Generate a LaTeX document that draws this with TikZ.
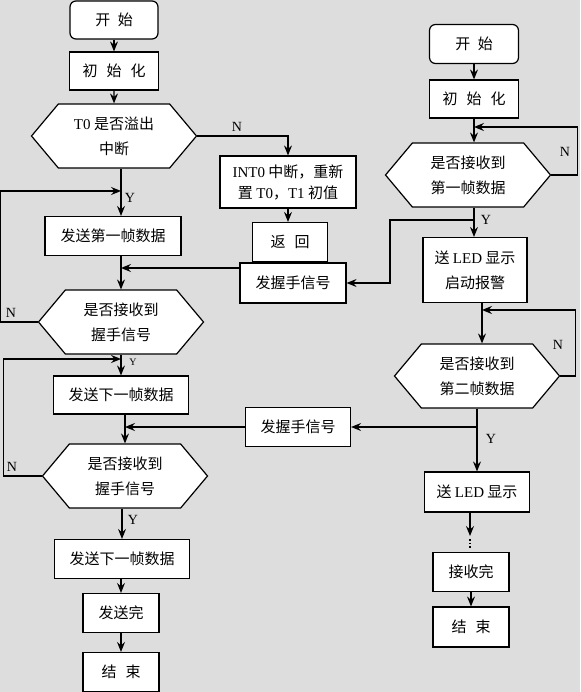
\documentclass[tikz,border=0pt]{standalone}
\usepackage{fontspec}
\setmainfont{Liberation Serif}
\newfontfamily\cjk{Noto Sans CJK SC}
\newfontfamily\tms{Liberation Serif}
\usetikzlibrary{shapes.symbols,arrows.meta}
\definecolor{bgray}{RGB}{221,221,221}
\tikzset{
	box/.style={draw, fill=white, line width=1.2pt, inner sep=2pt, align=center, font=\cjk\fontsize{15}{25}\selectfont},
	startbox/.style={box, rounded corners=6pt},
	hexbox/.style={box, shape=signal, signal to=west and east, signal pointer angle=100, minimum width=165pt, minimum height=64pt},
	arr/.style={line width=1.2pt, -{Stealth[length=10pt,width=8pt,inset=3.5pt]}},
	lab/.style={font=\tms\fontsize{14}{14}\selectfont, inner sep=0pt}
}
\begin{document}
\begin{tikzpicture}[x=1pt, y=-1pt]
		\useasboundingbox[fill=bgray] (0,0) rectangle (580,692);
		% left column
		\node[startbox, minimum width=88pt, minimum height=38pt] (start1) at (114,20) {开\hspace{0.5em}始};
		\node[box, minimum width=89pt, minimum height=38pt] (init1) at (114,71) {初\hspace{0.6em}始\hspace{0.6em}化};
		\node[hexbox] (hex1) at (114,136) {{\tms T0} 是否溢出\\中断};
		\node[box, minimum width=136pt, minimum height=39pt] (send1) at (113,236) {发送第一帧数据};
		\node[hexbox] (hex2) at (121,322) {是否接收到\\握手信号};
		\node[box, minimum width=135pt, minimum height=38pt] (next1) at (121,395) {发送下一帧数据};
		\node[hexbox] (hex3) at (125,476) {是否接收到\\握手信号};
		\node[box, minimum width=135pt, minimum height=39pt] (next2) at (122,559) {发送下一帧数据};
		\node[box, minimum width=76pt, minimum height=39pt] (done1) at (121,613) {发送完};
		\node[box, minimum width=76pt, minimum height=39pt] (end1) at (121,672) {结\hspace{0.6em}束};
		% middle
		\node[box, minimum width=136pt, minimum height=52pt, font=\cjk\fontsize{15}{21}\selectfont] (int) at (288,182) {{\tms INT0} 中断，重新\\置 {\tms T0}，{\tms T1} 初值};
		\node[box, minimum width=75pt, minimum height=39pt] (ret) at (290,242) {返\hspace{0.6em}回};
		\node[box, minimum width=106pt, minimum height=40pt] (hand1) at (293,283) {发握手信号};
		\node[box, minimum width=105pt, minimum height=39pt] (hand2) at (298,427) {发握手信号};
		% right column
		\node[startbox, minimum width=89pt, minimum height=39pt] (start2) at (474,44) {开\hspace{0.5em}始};
		\node[box, minimum width=89pt, minimum height=38pt] (init2) at (474,99) {初\hspace{0.6em}始\hspace{0.6em}化};
		\node[hexbox] (hex4) at (468,175) {是否接收到\\第一帧数据};
		\node[box, minimum width=104pt, minimum height=65pt] (led1) at (475,270) {送 {\tms LED} 显示\\启动报警};
		\node[hexbox] (hex5) at (477,376) {是否接收到\\第二帧数据};
		\node[box, minimum width=105pt, minimum height=40pt] (led2) at (477,492) {送 {\tms LED} 显示};
		\node[box, minimum width=76pt, minimum height=39pt] (recv) at (471,572) {接收完};
		\node[box, minimum width=76pt, minimum height=40pt] (end2) at (471,627) {结\hspace{0.6em}束};
		% labels
		\node[lab] (n1) at (237,127) {N};
		\node[lab] (y1) at (130,198) {Y};
		\node[lab] (n2) at (11,313) {N};
		\node[lab, font=\tms\fontsize{10}{10}\selectfont] (y2) at (133,362) {Y};
		\node[lab] (n3) at (12,467) {N};
		\node[lab] (y3) at (133,520) {Y};
		\node[lab] (n4) at (565,152) {N};
		\node[lab] (y4) at (486,220) {Y};
		\node[lab] (n5) at (558,345) {N};
		\node[lab] (y5) at (491,439) {Y};
		% helper points
		\coordinate (colA) at (121,0);
		\coordinate (colC) at (125,0);
		\coordinate (colD) at (474,0);
		\coordinate (colE) at (482,0);
		\coordinate (loopA) at (121,191);
		\coordinate (loopB) at (121,359);
		\coordinate (loopD) at (474,127);
		\coordinate (loopE) at (482,310);
		\coordinate (brD) at (474,220);
		\coordinate (brE) at (477,427);
		\coordinate (dotE) at (470,536);
		% connectors, left
		\draw[arr] (start1) -- (init1);
		\draw[arr] (init1) -- (hex1);
		\draw[arr] (hex1.south -| colA) -- (send1.north -| colA);
		\draw[arr] (send1.south -| colA) -- (hex2.north -| colA);
		\draw[arr] (hex2.south -| colA) -- (next1.north -| colA);
		\draw[arr] (next1.south -| colC) -- (hex3.north -| colC);
		\draw[arr] (hex3.south -| next2.north) -- (next2.north);
		\draw[arr] (next2.south -| done1.north) -- (done1.north);
		\draw[arr] (done1) -- (end1);
		\draw[arr] (hex2.west) -- ++(-37,0) |- (loopA);
		\draw[arr] (hex3.west) -- ++(-38,0) |- (loopB);
		% connectors, middle
		\draw[arr] (hex1.east) -| (int.north);
		\draw[arr] (int.south) -- (int.south |- ret.north);
		\draw[arr] ([yshift=15pt]hand1.west) -- ([yshift=15pt]hand1.west -| colA);
		\draw[arr] (hand2.west) -- (hand2.west -| colC);
		% connectors, right
		\draw[arr] (start2) -- (init2);
		\draw[arr] (init2.south) -- (hex4.north -| colD);
		\draw[arr] (hex4.east) -- ++(26,0) |- (loopD);
		\draw[arr] (hex4.south -| colD) -- (led1.north -| colD);
		\draw[arr] (brD) -- ++(-84,0) |- (hand1.east);
		\draw[arr] (led1.south -| colE) -- (hex5.north -| colE);
		\draw[arr] (hex5.east) -- ++(15,0) |- (loopE);
		\draw[arr] (hex5.south) -- (led2.north);
		\draw[arr] (brE) -- (brE -| hand2.east);
		\draw[arr] (led2.south -| dotE) -- (dotE);
		\draw[line width=1.6pt, dotted] ([yshift=-3pt]dotE) -- ([yshift=4pt]recv.north -| dotE);
		\draw[arr] (recv) -- (end2);
	\end{tikzpicture}
\end{document}
